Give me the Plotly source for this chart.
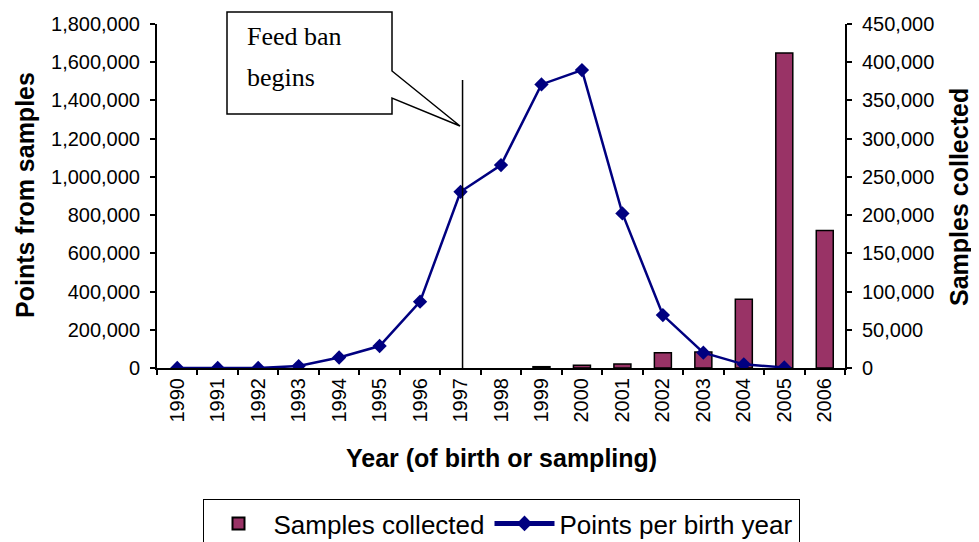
import plotly.graph_objects as go

# ---- data ----
years = [str(y) for y in range(1990, 2007)]
samples_collected = [0, 0, 0, 0, 0, 0, 0, 0, 0, 1700, 3500, 5200, 20000, 21000, 90000, 412000, 180000]
points_per_birth_year = [0, 0, 0, 10000, 55000, 115000, 347000, 922000, 1062000, 1484000,
                         1559000, 809000, 277000, 80000, 19000, 3000, None]
left_ticks = list(range(0, 1800001, 200000))
right_ticks = list(range(0, 450001, 50000))

OFF = 8  # page body margin in the browser
W, H = 979 - OFF, 542 - OFF
L, R, T, B = 157, 845, 24, 368  # plot area in page pixels


def px(x):
    return (x - L) / (R - L)


def py(y):
    return (B - y) / (B - T)


SANS = "Liberation Sans, Arial, sans-serif"
SERIF = "Liberation Serif, Times New Roman, serif"

fig = go.Figure()
fig.add_trace(go.Bar(
    x=years, y=[v if v else None for v in samples_collected], name="Samples collected",
    marker=dict(color="#993366", line=dict(color="black", width=1.5)),
    yaxis="y", xaxis="x",
))
fig.add_trace(go.Scatter(
    x=years, y=points_per_birth_year, name="Points per birth year",
    mode="lines+markers",
    line=dict(color="#000080", width=2.5),
    marker=dict(symbol="diamond", size=11, color="#000080"),
    yaxis="y2", xaxis="x",
))

axis_common = dict(showgrid=False, zeroline=False, showline=True, linecolor="black",
                   linewidth=2, tickcolor="black", tickwidth=1.5, ticklen=5,
                   automargin=False,
                   tickfont=dict(family=SANS, size=20, color="black"))

callout = (f"M {px(227)} {py(12)} L {px(392)} {py(12)} L {px(392)} {py(71)} "
           f"L {px(460)} {py(126)} L {px(392)} {py(98)} L {px(392)} {py(114)} "
           f"L {px(227)} {py(114)} Z")

fig.update_layout(
    width=W, height=H, autosize=False,
    margin=dict(l=L - OFF, r=979 - R, t=T - OFF, b=542 - B, pad=0, autoexpand=False),
    paper_bgcolor="white", plot_bgcolor="white",
    bargap=0.58,
    showlegend=True,
    legend=dict(orientation="h", x=0.5, xanchor="center", y=py(499), yanchor="top",
                bordercolor="black", borderwidth=1, itemwidth=60,
                font=dict(family=SANS, size=26, color="black"),
                traceorder="normal", itemsizing="constant"),
    xaxis=dict(type="category", range=[-0.5, 16.5], tickson="boundaries", ticks="outside",
               tickangle=-90, anchor="y", **axis_common),
    xaxis2=dict(overlaying="x", range=[-0.5, 16.5], tickmode="array",
                tickvals=[i - 0.5 for i in range(18)], ticks="inside", ticklen=5,
                tickcolor="black", tickwidth=1.5, showticklabels=False, automargin=False,
                showgrid=False, zeroline=False, showline=False, anchor="y"),
    yaxis=dict(side="right", range=[0, 450000], tickmode="array", tickvals=right_ticks,
               tickformat=",d", ticks="outside", anchor="x", ticklabelstandoff=6,
               **axis_common),
    yaxis3=dict(overlaying="y", side="right", range=[0, 450000], tickmode="array",
                tickvals=right_ticks, ticks="inside", ticklen=5, tickcolor="black",
                tickwidth=1.5, showticklabels=False, showgrid=False, zeroline=False,
                showline=False, anchor="x", automargin=False),
    yaxis2=dict(overlaying="y", side="left", range=[0, 1800000], tickmode="array",
                tickvals=left_ticks, tickformat=",d", ticks="outside", anchor="x",
                ticklabelstandoff=6, **axis_common),
    shapes=[
        dict(type="line", xref="x", yref="paper", x0=7.05, x1=7.05, y0=0, y1=py(80),
             line=dict(color="black", width=1.5), layer="above"),
        dict(type="path", xref="paper", yref="paper", path=callout,
             fillcolor="white", line=dict(color="black", width=1.5), layer="above"),
    ],
    annotations=[
        dict(text="<b>Points from samples</b>", xref="paper", yref="paper",
             x=px(25), y=py(195), textangle=-90, showarrow=False,
             xanchor="center", yanchor="middle",
             font=dict(family=SANS, size=25, color="black")),
        dict(text="<b>Samples collected</b>", xref="paper", yref="paper",
             x=px(959), y=py(197), textangle=-90, showarrow=False,
             xanchor="center", yanchor="middle",
             font=dict(family=SANS, size=25, color="black")),
        dict(text="<b>Year (of birth or sampling)</b>", xref="paper", yref="paper",
             x=0.5, y=py(458), showarrow=False, xanchor="center", yanchor="middle",
             font=dict(family=SANS, size=25, color="black")),
        dict(text="Feed ban", xref="paper", yref="paper", x=px(245), y=py(37),
             xanchor="left", yanchor="middle", showarrow=False,
             font=dict(family=SERIF, size=26, color="black")),
        dict(text="begins", xref="paper", yref="paper", x=px(245), y=py(77),
             xanchor="left", yanchor="middle", showarrow=False,
             font=dict(family=SERIF, size=26, color="black")),
    ],
)

fig.write_html("out.html")
